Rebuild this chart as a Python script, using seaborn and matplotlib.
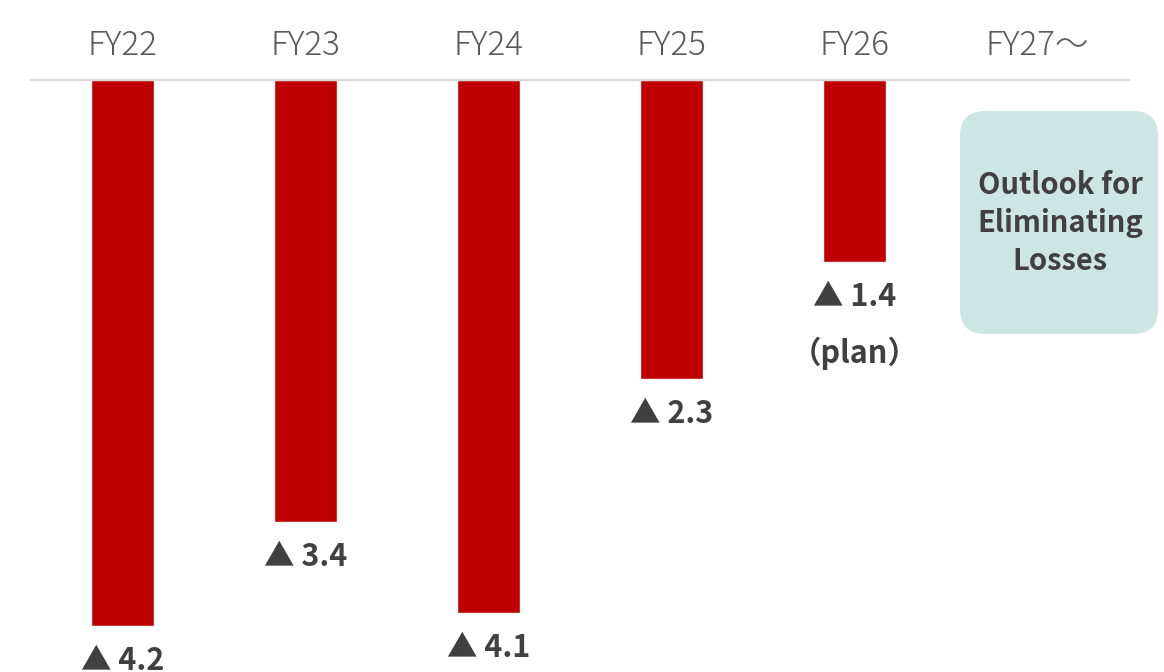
import matplotlib
matplotlib.use("Agg")
import matplotlib.pyplot as plt
from matplotlib.patches import FancyBboxPatch
import seaborn as sns
import pandas as pd
import numpy as np

# ---- data ----
categories = ["FY22", "FY23", "FY24", "FY25", "FY26", "FY27～"]
values = [-4.2, -3.4, -4.1, -2.3, -1.4, np.nan]
value_labels = ["▲ 4.2", "▲ 3.4", "▲ 4.1", "▲ 2.3", "▲ 1.4", ""]
notes = ["", "", "", "", "（plan）", ""]
outlook_text = "Outlook for\nEliminating\nLosses"

sns.set_theme(style="white")
plt.rcParams["font.family"] = ["Noto Sans CJK JP", "DejaVu Sans"]

df = pd.DataFrame({"cat": categories, "val": values})

W, H = 11.64, 6.72
fig = plt.figure(figsize=(W, H), dpi=100)
# axes: x from 31px to 1129px, y from 80px (top) to 672px (bottom)
ax = fig.add_axes([31 / 1164, 0, 1098 / 1164, 592 / 672])

sns.barplot(data=df, x="cat", y="val", order=categories, color="#C00000",
            width=0.344, saturation=1, ax=ax, errorbar=None)

ax.set_xlim(-0.5, 5.5)
ax.set_ylim(-592 / 130, 0)

# axis styling
for s in ["left", "right", "bottom"]:
    ax.spines[s].set_visible(False)
ax.spines["top"].set_color("#D9D9D9")
ax.spines["top"].set_linewidth(1.5)
ax.xaxis.tick_top()
ax.tick_params(axis="x", length=0, pad=12)
ax.set_xticks(range(len(categories)))
ax.set_xticklabels(categories, fontsize=24, color="#595959",
                   family=["Noto Sans CJK JP", "DejaVu Sans"], fontweight="light")
ax.set_yticks([])
ax.set_xlabel("")
ax.set_ylabel("")

# value labels below bars
for i, (v, lab, note) in enumerate(zip(values, value_labels, notes)):
    if np.isnan(v):
        continue
    ax.annotate(lab, xy=(i, v), xytext=(0, -25), textcoords="offset points",
                ha="center", va="center", fontsize=22, fontweight="bold",
                color="#404040", annotation_clip=False)
    if note:
        ax.annotate(note, xy=(i, v), xytext=(0, -66), textcoords="offset points",
                    ha="center", va="center", fontsize=22, fontweight="bold",
                    color="#404040", annotation_clip=False)

# outlook box (in figure inches)
box = FancyBboxPatch((9.60, 3.38), 1.98, 2.23,
                     boxstyle="round,pad=0,rounding_size=0.25",
                     transform=fig.dpi_scale_trans, facecolor="#CDE6E3",
                     edgecolor="none", clip_on=False)
fig.patches.append(box)
fig.text(10.60 / W, 1 - 2.23 / H, outlook_text, ha="center", va="center",
         fontsize=21, fontweight="bold", color="#404040", linespacing=1.33)

fig.savefig("out.png", dpi=100)
